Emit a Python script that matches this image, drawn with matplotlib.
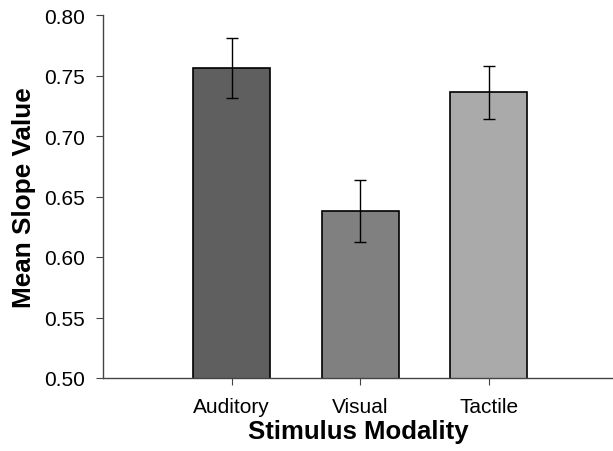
import numpy as np
import matplotlib
matplotlib.use("Agg")
import matplotlib.pyplot as plt

plt.rcParams['font.family'] = ['Liberation Sans', 'DejaVu Sans']

categories = ["Auditory", "Visual", "Tactile"]
means = [0.756, 0.638, 0.736]
errors = [0.025, 0.026, 0.022]
colors = ["#5f5f5f", "#808080", "#aaaaaa"]

fig = plt.figure(figsize=(6.13, 4.52), dpi=100)
ax = fig.add_axes([103/613, 1 - 379/452, 1 - 103/613, (379 - 16)/452])

x = np.arange(len(categories))
ax.bar(x, means, width=0.6, color=colors, edgecolor="black", linewidth=1.2, zorder=2)
ax.errorbar(x, means, yerr=errors, fmt="none", ecolor="black", elinewidth=1,
            capsize=4, capthick=1, zorder=3)

ax.set_xlim(-1, 2.965)
ax.set_ylim(0.50, 0.80)
ax.set_yticks(np.arange(0.50, 0.801, 0.05))
ax.set_yticklabels(["%.2f" % v for v in np.arange(0.50, 0.801, 0.05)])
ax.set_xticks(x)
ax.set_xticklabels(categories)

for s in ["top", "right"]:
    ax.spines[s].set_visible(False)
for s in ["left", "bottom"]:
    ax.spines[s].set_color("#444444")
    ax.spines[s].set_linewidth(1)
ax.tick_params(axis="both", direction="out", length=5, color="#444444", labelsize=15)
ax.tick_params(axis="y", pad=8)
ax.tick_params(axis="x", pad=9)

ax.set_xlabel("Stimulus Modality", fontsize=18.5, fontweight="bold", labelpad=2)
ax.set_ylabel("Mean Slope Value", fontsize=18.8, fontweight="bold", labelpad=6)

plt.savefig("out.png", dpi=100)
